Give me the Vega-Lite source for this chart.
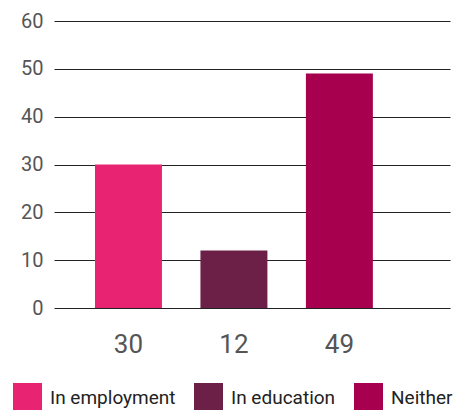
{
  "$schema": "https://vega.github.io/schema/vega-lite/v6.json",
  "width": 396,
  "height": 287,
  "autosize": {"type": "none"},
  "padding": {"left": 54, "top": 21, "right": 14, "bottom": 102},
  "background": "white",
  "config": {
    "view": {"stroke": null},
    "font": "Roboto"
  },
  "data": {
    "values": [
      {"category": "In employment", "label": "30", "value": 30},
      {"category": "In education", "label": "12", "value": 12},
      {"category": "Neither", "label": "49", "value": 49}
    ]
  },
  "mark": {"type": "bar"},
  "encoding": {
    "x": {
      "field": "label",
      "type": "nominal",
      "sort": null,
      "scale": {"paddingInner": 0.365, "paddingOuter": 0.56, "align": 0.347},
      "axis": {
        "title": null,
        "domain": false,
        "ticks": false,
        "labelAngle": 0,
        "labelFontSize": 26,
        "labelColor": "#555555",
        "labelPadding": 23,
        "labelFont": "Roboto"
      }
    },
    "y": {
      "field": "value",
      "type": "quantitative",
      "scale": {"domain": [0, 60], "nice": false},
      "axis": {
        "title": null,
        "values": [0, 10, 20, 30, 40, 50, 60],
        "domain": false,
        "ticks": false,
        "grid": true,
        "gridColor": "#222222",
        "gridWidth": 1.2,
        "labelFontSize": 20,
        "labelColor": "#555555",
        "labelPadding": 11,
        "labelFont": "Roboto"
      }
    },
    "color": {
      "field": "category",
      "type": "nominal",
      "sort": null,
      "scale": {
        "domain": ["In employment", "In education", "Neither"],
        "range": ["#E82372", "#6C1F47", "#A6004E"]
      },
      "legend": {
        "title": null,
        "orient": "none",
        "direction": "horizontal",
        "legendX": -41,
        "legendY": 362,
        "symbolType": "square",
        "symbolSize": 841,
        "symbolStrokeWidth": 0,
        "symbolOpacity": 1,
        "labelFontSize": 19,
        "labelColor": "#222222",
        "labelFont": "Roboto",
        "labelOffset": 8,
        "columnPadding": 18,
        "labelLimit": 300
      }
    }
  }
}
